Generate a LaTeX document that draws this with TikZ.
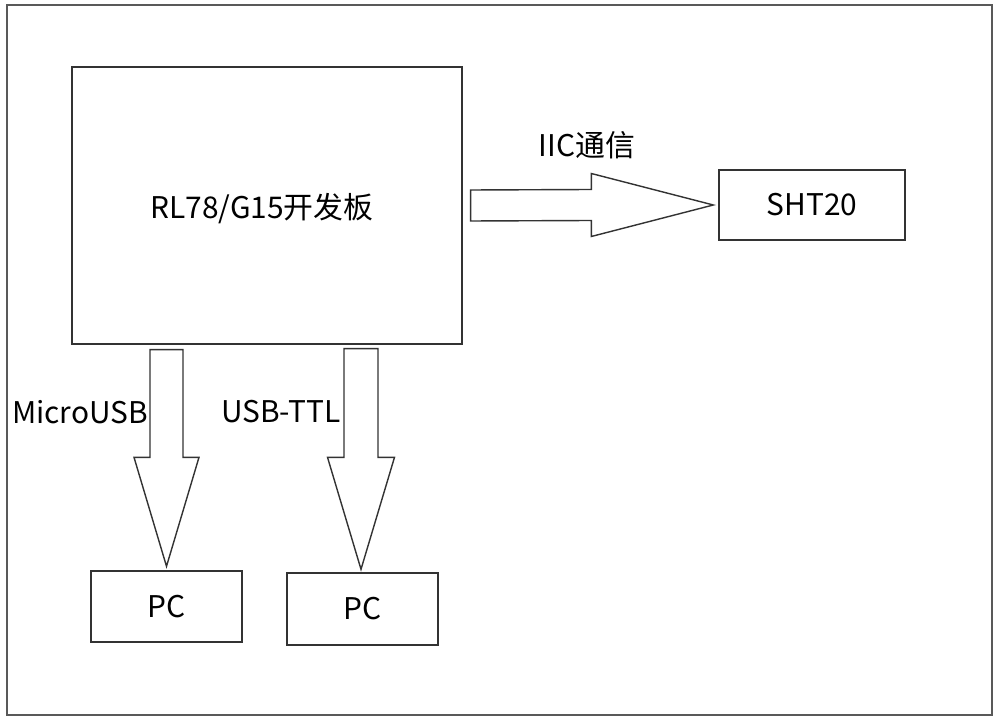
\documentclass[tikz,border=0pt]{standalone}
\usepackage{fontspec}
\setmainfont{Noto Sans CJK SC}
\usetikzlibrary{positioning,calc}

\tikzset{
  block/.style={draw=black!80,line width=0.8pt,inner sep=0pt,font=\fontsize{17}{19}\selectfont},
  fat/.style={draw=black!80,line width=0.8pt,fill=white,line join=miter},
  lbl/.style={inner sep=0pt,font=\fontsize{17}{19}\selectfont}
}

\begin{document}
\begin{tikzpicture}[x=0.02cm,y=-0.02cm]
  \useasboundingbox (0,0) rectangle (1000,722);
  \draw[line width=1.2pt,draw=black!65] (7,5) rectangle (992,715);
  \node[block,minimum width=7.8cm,minimum height=5.54cm] (board) at (267,205.5) {};
  \node[lbl] (boardtxt) at (262,209) {RL78/G15开发板};
  \node[block,minimum width=3.72cm,minimum height=1.4cm] (sht) at (812,205) {SHT20};
  \node[block,minimum width=3.02cm,minimum height=1.42cm] (pca) at (166.5,606.5) {PC};
  \node[block,minimum width=3.02cm,minimum height=1.44cm] (pcb) at (362.5,609) {PC};
  % IIC
  \coordinate (ia) at ($(board.east)+(8,0)$);
  \coordinate (ib) at ($(sht.west)+(-5,0)$);
  \draw[fat] ($(ia)+(0,-15.5)$) -- ($(ib)+(-122,-15.5)$) -- ($(ib)+(-122,-31.5)$) -- (ib)
    -- ($(ib)+(-122,31.5)$) -- ($(ib)+(-122,15.5)$) -- ($(ia)+(0,15.5)$) -- cycle;
  \node[lbl] (iic) at (587,145) {IIC通信};
  % MicroUSB
  \coordinate (ma) at ($(board.south -| pca.north)+(0,5)$);
  \coordinate (mb) at ($(pca.north)+(0,-4)$);
  \draw[fat] ($(ma)+(-16.5,0)$) -- ($(mb)+(-16.5,-109)$) -- ($(mb)+(-32.5,-109)$) -- (mb)
    -- ($(mb)+(32.5,-109)$) -- ($(mb)+(16.5,-109)$) -- ($(ma)+(16.5,0)$) -- cycle;
  \node[lbl] (musb) at (80,412) {MicroUSB};
  % USB-TTL
  \coordinate (ua) at ($(board.south -| pcb.north)+(-1.5,4)$);
  \coordinate (ub) at ($(pcb.north)+(-1.5,-3)$);
  \draw[fat] ($(ua)+(-17,0)$) -- ($(ub)+(-17,-112)$) -- ($(ub)+(-33.5,-112)$) -- (ub)
    -- ($(ub)+(33.5,-112)$) -- ($(ub)+(17,-112)$) -- ($(ua)+(17,0)$) -- cycle;
  \node[lbl] (uttl) at (281,412) {USB-TTL};
\end{tikzpicture}
\end{document}
